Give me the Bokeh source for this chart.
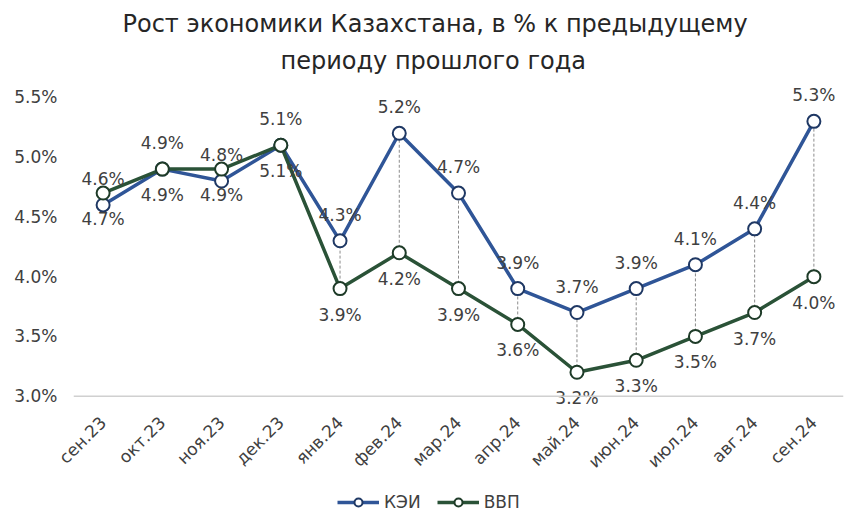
from bokeh.plotting import figure
from bokeh.layouts import column
from bokeh.models import (ColumnDataSource, FixedTicker, PrintfTickFormatter, Legend,
                          LegendItem, Span, Range1d, Title)
from bokeh.embed import file_html
from bokeh.resources import INLINE
from bokeh.core.properties import value
import math

months = ["сен.23", "окт.23", "ноя.23", "дек.23", "янв.24", "фев.24", "мар.24",
          "апр.24", "май.24", "июн.24", "июл.24", "авг.24", "сен.24"]
kei = [4.6, 4.9, 4.8, 5.1, 4.3, 5.2, 4.7, 3.9, 3.7, 3.9, 4.1, 4.4, 5.3]
vvp = [4.7, 4.9, 4.9, 5.1, 3.9, 4.2, 3.9, 3.6, 3.2, 3.3, 3.5, 3.7, 4.0]
y_ticks = [3.0, 3.5, 4.0, 4.5, 5.0, 5.5]
title_lines = ["Рост экономики Казахстана, в % к предыдущему", "периоду прошлого года"]
series_names = ["КЭИ", "ВВП"]

FONT = "DejaVu Sans"
BLUE = "#2F5597"
BLUE_DARK = "#1F3864"
GREEN = "#2A5237"
GREEN_DARK = "#1E3B28"
TXT = "#404040"

src = ColumnDataSource(dict(
    m=months, kei=kei, vvp=vvp,
    lo=[min(a, b) for a, b in zip(kei, vvp)],
    hi=[max(a, b) for a, b in zip(kei, vvp)],
    kl=[f"{v:.1f}%" for v in kei],
    vl=[f"{v:.1f}%" for v in vvp],
))

p = figure(width=850, height=483, x_range=months, y_range=Range1d(2.88, 5.65),
           output_backend="svg", toolbar_location=None,
           min_border_left=73, min_border_right=7, min_border_top=79, min_border_bottom=73)

# lower line first (closest to the frame), then the upper line
title_offsets = [207, 49]
title_standoffs = [10, 3]
for line, off, so in zip(reversed(title_lines), title_offsets, title_standoffs):
    p.add_layout(Title(text=line, align="left", text_font=FONT, text_font_size="24px",
                       text_font_style="normal", text_color="#262626",
                       standoff=so, offset=off),
                 "above")

p.outline_line_color = None
p.xgrid.grid_line_color = None
p.ygrid.grid_line_color = None

p.yaxis.ticker = FixedTicker(ticks=y_ticks)
p.yaxis.formatter = PrintfTickFormatter(format="%.1f%%")
p.yaxis.axis_line_color = None
p.yaxis.major_tick_line_color = None
p.yaxis.minor_tick_line_color = None
p.yaxis.major_label_text_font = FONT
p.yaxis.major_label_text_font_size = "17px"
p.yaxis.major_label_text_color = TXT
p.yaxis.major_label_standoff = 10

p.xaxis.axis_line_color = None
p.xaxis.major_tick_line_color = None
p.xaxis.major_label_orientation = math.pi / 4
p.xaxis.major_label_text_font = FONT
p.xaxis.major_label_text_font_size = "17px"
p.xaxis.major_label_text_color = TXT
p.xaxis.major_label_standoff = 3

p.add_layout(Span(location=3.0, dimension="width", line_color="#D0D0D0", line_width=1.5))

p.segment(x0="m", y0="lo", x1="m", y1="hi", source=src, line_color="#8C8C8C",
          line_width=1, line_dash="3 2")

p.line("m", "kei", source=src, line_color=BLUE, line_width=3.5)
p.line("m", "vvp", source=src, line_color=GREEN, line_width=3.5)
p.scatter("m", "kei", source=src, size=13, fill_color="white", line_color=BLUE_DARK, line_width=2)
p.scatter("m", "vvp", source=src, size=13, fill_color="white", line_color=GREEN_DARK, line_width=2)

p.text("m", "kei", text="kl", source=src, text_align="center", text_baseline="bottom",
       y_offset=-16, text_font=value(FONT), text_font_size="17px", text_color=TXT)
p.text("m", "vvp", text="vl", source=src, text_align="center", text_baseline="top",
       y_offset=16, text_font=value(FONT), text_font_size="17px", text_color=TXT)

# legend strip below the chart (same data, drawn off-range so only legend glyphs show)
pl = figure(width=850, height=30, x_range=p.x_range, y_range=Range1d(100, 101),
            output_backend="svg", toolbar_location=None, x_axis_type=None, y_axis_type=None,
            min_border_left=0, min_border_right=0, min_border_top=0, min_border_bottom=0)
pl.outline_line_color = None
pl.xgrid.grid_line_color = None
pl.ygrid.grid_line_color = None
lk = pl.line("m", "kei", source=src, line_color=BLUE, line_width=3.5)
sk = pl.scatter("m", "kei", source=src, size=11, fill_color="white", line_color=BLUE_DARK, line_width=2)
lv = pl.line("m", "vvp", source=src, line_color=GREEN, line_width=3.5)
sv = pl.scatter("m", "vvp", source=src, size=11, fill_color="white", line_color=GREEN_DARK, line_width=2)

legend = Legend(items=[LegendItem(label=series_names[0], renderers=[lk, sk]),
                       LegendItem(label=series_names[1], renderers=[lv, sv])],
                orientation="horizontal", location=(264, 1),
                border_line_color=None, background_fill_alpha=0,
                label_text_font=FONT, label_text_font_size="17px", label_text_color=TXT,
                glyph_width=42, spacing=16, label_standoff=5, margin=0, padding=4)
pl.add_layout(legend, "center")

layout = column(p, pl, spacing=0)
open("out.html", "w").write(file_html(layout, INLINE))
